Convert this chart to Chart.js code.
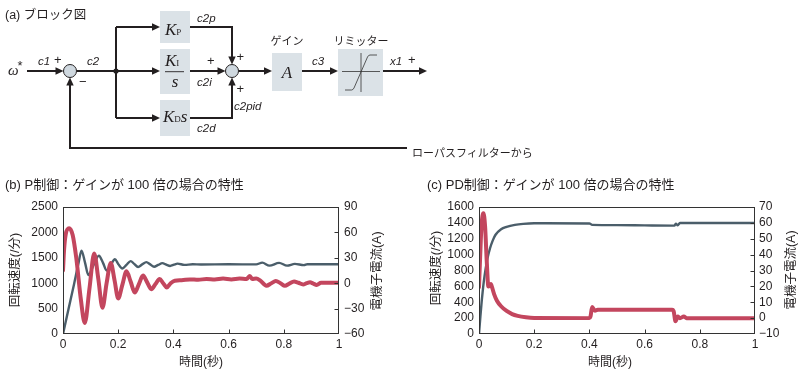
<!DOCTYPE html>
<html><head><meta charset="utf-8">
<script src="https://cdn.jsdelivr.net/npm/chart.js@4"></script>
<style>
html,body{margin:0;padding:0;background:#fff;}
#wrap{position:relative;width:800px;height:373px;overflow:hidden;}
canvas{position:absolute;}
svg{position:absolute;left:0;top:0;pointer-events:none;}
.lab{font-family:"Liberation Sans",Arial,sans-serif;font-style:italic;font-size:11.5px;fill:#231f20;}
.pl{font-family:"Liberation Sans",Arial,sans-serif;font-size:13px;fill:#231f20;}
.jp{font-family:"Liberation Sans","Noto Sans CJK JP",sans-serif;fill:#231f20;}
.sf{font-family:"Liberation Serif","DejaVu Serif",serif;font-style:italic;fill:#231f20;}
.sub{font-style:normal;}
</style></head><body>
<div id="wrap">
<canvas id="cb" width="400" height="183" style="left:0;top:190px"></canvas>
<canvas id="cc" width="400" height="183" style="left:400px;top:190px"></canvas>
<svg width="800" height="373" viewBox="0 0 800 373">
  <!-- block diagram -->
  <text x="5" y="19" class="jp" font-size="12.5">(a) ブロック図</text>
  <g fill="#dbe2e7">
    <rect x="160" y="11" width="30" height="32"/>
    <rect x="160" y="49" width="30" height="45"/>
    <rect x="160" y="100" width="30" height="36"/>
    <rect x="272" y="53" width="30" height="38"/>
    <rect x="338" y="49" width="45" height="47"/>
  </g>
  <g stroke="#231f20" stroke-width="2" fill="none">
    <path d="M27 71 H57"/>
    <path d="M76.5 71 H153"/>
    <path d="M116 27 V118"/>
    <path d="M116 27 H153"/>
    <path d="M116 118 H153"/>
    <path d="M190 27 H232 V58"/>
    <path d="M190 71 H219"/>
    <path d="M190 118 H232 V84"/>
    <path d="M238.5 71 H265"/>
    <path d="M302 71 H331"/>
    <path d="M383 71 H420"/>
    <path d="M407 148 H70 V85"/>
  </g>
  <g fill="#231f20">
    <polygon points="63.5,71 55.5,67.3 55.5,74.7"/>
    <polygon points="160,71 152,67.3 152,74.7"/>
    <polygon points="160,27 152,23.3 152,30.7"/>
    <polygon points="160,118 152,114.3 152,121.7"/>
    <polygon points="232,64.5 228.3,56.5 235.7,56.5"/>
    <polygon points="225.5,71 217.5,67.3 217.5,74.7"/>
    <polygon points="232,77.5 228.3,85.5 235.7,85.5"/>
    <polygon points="272,71 264,67.3 264,74.7"/>
    <polygon points="338,71 330,67.3 330,74.7"/>
    <polygon points="427,71 419,67.3 419,74.7"/>
    <polygon points="70,77.5 66.3,85.5 73.7,85.5"/>
    <circle cx="116" cy="71" r="2.6"/>
  </g>
  <circle cx="70" cy="71" r="6.5" fill="#cfd8df" stroke="#231f20" stroke-width="1"/>
  <circle cx="232" cy="71" r="6.5" fill="#cfd8df" stroke="#231f20" stroke-width="1"/>
  <g stroke="#333" stroke-width="0.8" fill="none">
    <path d="M342 71.5 H380"/>
    <path d="M361 53 V92"/>
    <path d="M345 90 H351.5 Q353 90 354 88 L367.5 57 Q368.5 55 370 55 H377"/>
  </g>
  <text x="8" y="75" class="sf" font-size="15">ω</text>
  <text x="17.5" y="70" class="pl" font-size="8">*</text>
  <text x="38" y="65" class="lab">c1</text>
  <text x="54" y="64" class="pl">+</text>
  <text x="87" y="65" class="lab">c2</text>
  <text x="79" y="86" class="pl">−</text>
  <text x="197" y="22" class="lab">c2p</text>
  <text x="207" y="65" class="pl">+</text>
  <text x="197" y="86" class="lab">c2i</text>
  <text x="236.5" y="61" class="pl">+</text>
  <text x="236.5" y="93" class="pl">+</text>
  <text x="234" y="110" class="lab">c2pid</text>
  <text x="197" y="132" class="lab">c2d</text>
  <text x="312" y="65" class="lab">c3</text>
  <text x="390" y="65" class="lab">x1</text>
  <text x="408" y="64" class="pl">+</text>
  <text x="165" y="35" class="sf" font-size="17">K<tspan class="sub" font-size="9">P</tspan></text>
  <text x="165" y="66" class="sf" font-size="17">K<tspan class="sub" font-size="9">I</tspan></text>
  <path d="M165 71.7 H184" stroke="#231f20" stroke-width="0.9"/>
  <text x="175" y="87" class="sf" font-size="17" text-anchor="middle">s</text>
  <text x="163" y="122" class="sf" font-size="17">K<tspan class="sub" font-size="9">D</tspan>s</text>
  <text x="287" y="78" class="sf" font-size="17" text-anchor="middle">A</text>
  <text x="287" y="45" class="jp" font-size="11" text-anchor="middle">ゲイン</text>
  <text x="361" y="45" class="jp" font-size="11" text-anchor="middle">リミッター</text>
  <text x="412" y="157" class="jp" font-size="11">ローパスフィルターから</text>

  <!-- chart titles -->
  <text x="5" y="189" class="jp" font-size="13">(b) P制御：ゲインが 100 倍の場合の特性</text>
  <text x="427" y="189" class="jp" font-size="13">(c) PD制御：ゲインが 100 倍の場合の特性</text>
  <text x="15" y="270" class="jp" font-size="12.5" text-anchor="middle" dominant-baseline="central" transform="rotate(-90 15 270)">回転速度(/分)</text>
  <text x="377" y="271" class="jp" font-size="12.5" text-anchor="middle" dominant-baseline="central" transform="rotate(-90 377 271)">電機子電流(A)</text>
  <text x="436" y="268" class="jp" font-size="12.5" text-anchor="middle" dominant-baseline="central" transform="rotate(-90 436 268)">回転速度(/分)</text>
  <text x="791" y="270" class="jp" font-size="12.5" text-anchor="middle" dominant-baseline="central" transform="rotate(-90 791 270)">電機子電流(A)</text>
  <text x="201" y="362" class="jp" font-size="12" text-anchor="middle" dominant-baseline="central">時間(秒)</text>
  <text x="610" y="362" class="jp" font-size="12" text-anchor="middle" dominant-baseline="central">時間(秒)</text>
</svg>
</div>
<script>
// (b) P control, gain 100
const pSpeedTime = [0,0.02,0.04,0.056,0.067,0.08,0.092,0.11,0.13,0.145,0.158,0.173,0.188,0.2,0.215,0.23,0.245,0.258,0.272,0.287,0.302,0.316,0.33,0.345,0.36,0.374,0.388,0.402,0.415,0.44,0.47,0.5,0.6,0.7,0.722,0.748,0.783,0.812,0.84,0.873,0.885,1];
const pSpeed     = [0,490,980,1390,1640,1400,1160,1350,1540,1400,1250,1360,1470,1380,1290,1360,1435,1380,1320,1370,1415,1370,1325,1360,1395,1365,1340,1365,1385,1360,1372,1368,1372,1370,1405,1345,1400,1345,1380,1355,1372,1372];
const pCurTime   = [0,0.004,0.01,0.022,0.035,0.048,0.065,0.079,0.096,0.113,0.128,0.143,0.158,0.173,0.187,0.2,0.215,0.23,0.245,0.26,0.275,0.29,0.305,0.32,0.335,0.35,0.363,0.376,0.39,0.405,0.43,0.46,0.49,0.52,0.55,0.58,0.61,0.64,0.665,0.677,0.685,0.7,0.715,0.737,0.755,0.771,0.788,0.804,0.82,0.837,0.853,0.87,0.883,0.895,0.907,0.919,0.935,1];
const pCurrent   = [15,40,58,65,57,30,-20,-47,-6,35,5,-29,0,24,3,-18,-2,14,2,-11,-1,9,1,-7,-1,5,0,-5,0,3,3.5,4.5,4,5,4.5,5.5,4.5,5.5,5,8.5,5,5.5,3,-3,0,2.6,0,-3,-0.5,2,0.5,-1.5,0,1,-0.5,-2,0.5,0.5];
// (c) PD control, gain 100
const pdSpeedTime = [0,0.005,0.01,0.015,0.02,0.03,0.04,0.05,0.06,0.08,0.1,0.13,0.16,0.2,0.4,0.41,0.5,0.6,0.7,0.708,0.713,0.72,0.728,1];
const pdSpeed     = [0,220,420,590,730,940,1080,1180,1250,1320,1350,1375,1388,1395,1393,1375,1372,1368,1365,1365,1390,1368,1398,1398];
const pdCurTime   = [0,0.004,0.009,0.016,0.022,0.028,0.034,0.038,0.043,0.048,0.055,0.065,0.08,0.1,0.12,0.14,0.17,0.2,0.4,0.404,0.41,0.42,0.43,0.7,0.705,0.712,0.72,0.728,0.742,0.752,1];
const pdCurrent   = [19.5,38,58,66,58,36,20,20.5,21.5,19,15,11,7.5,4.5,2.5,1.4,0.5,0.1,0,1,7,4.6,5.2,5.2,4.5,-2,1,0,1,0,0];
// axis ranges / ticks
const timeTicks = [0,0.2,0.4,0.6,0.8,1];
const pSpeedAxis = {min:0,max:2500,step:500};
const pCurAxis   = {min:-60,max:90,step:30};
const pdSpeedAxis = {min:0,max:1600,step:200};
const pdCurAxis   = {min:-10,max:70,step:10};

const RED = '#c3465e', BLUE = '#4b5e6a', INK = '#231f20';
const tickFont = {family:'"Liberation Sans", Arial, sans-serif', size:12};
const pts = (xs, ys) => xs.map((x,i)=>({x, y: ys[i]}));
const minusFmt = v => v < 0 ? '\u2212' + Math.abs(v) : String(v);

const framePlugin = {
  id:'frame',
  afterDatasetsDraw(chart){
    const {ctx, chartArea:a, scales} = chart;
    ctx.save();
    ctx.strokeStyle = '#333'; ctx.lineWidth = 1;
    const L = Math.round(a.left)+0.5, T = Math.round(a.top)+0.5, R = Math.round(a.right)-0.5, B = Math.round(a.bottom)-0.5;
    ctx.strokeRect(L, T, R-L, B-T);
    ctx.beginPath();
    scales.x.ticks.forEach(t=>{
      if (t.value<=0 || t.value>=1) return;
      const px = Math.round(scales.x.getPixelForValue(t.value))+0.5;
      ctx.moveTo(px, B); ctx.lineTo(px, B-4);
    });
    const y2 = scales.y2;
    y2.ticks.forEach(t=>{
      if (t.value<=y2.min || t.value>=y2.max) return;
      const py = Math.round(y2.getPixelForValue(t.value))+0.5;
      ctx.moveTo(R, py); ctx.lineTo(R-4, py);
    });
    ctx.stroke();
    ctx.restore();
  }
};

function build(id, speedPts, curPts, sAx, cAx, leftW, rightW, rPad){
  return new Chart(document.getElementById(id), {
    type:'line',
    data:{datasets:[
      {data:curPts, yAxisID:'y2', borderColor:RED, borderWidth:4, pointRadius:0, cubicInterpolationMode:'monotone', borderCapStyle:'round', borderJoinStyle:'round'},
      {data:speedPts, yAxisID:'y', borderColor:BLUE, borderWidth:2.4, pointRadius:0, cubicInterpolationMode:'monotone', borderCapStyle:'round', borderJoinStyle:'round'}
    ]},
    options:{
      responsive:false, animation:false, events:[],
      layout:{padding:{top:17,left:0,right:0,bottom:0}},
      plugins:{legend:{display:false}, tooltip:{enabled:false}},
      scales:{
        x:{type:'linear', min:0, max:1,
           afterBuildTicks: s => { s.ticks = timeTicks.map(v=>({value:v})); },
           afterFit: s => { s.height = 39; },
           grid:{display:false, drawTicks:false}, border:{display:false},
           ticks:{font:tickFont, color:INK, padding:3, maxRotation:0, autoSkip:false, callback: v => String(+(+v).toFixed(1))}},
        y:{position:'left', min:sAx.min, max:sAx.max,
           afterFit: s => { s.width = leftW; },
           grid:{display:false, drawTicks:false}, border:{display:false},
           ticks:{stepSize:sAx.step, autoSkip:false, font:tickFont, color:INK, padding:5, callback:minusFmt}},
        y2:{position:'right', min:cAx.min, max:cAx.max,
           afterFit: s => { s.width = rightW; },
           grid:{display:false, drawTicks:false}, border:{display:false},
           ticks:{stepSize:cAx.step, autoSkip:false, font:tickFont, color:INK, padding:rPad, callback:minusFmt}}
      }
    },
    plugins:[framePlugin]
  });
}

build('cb', pts(pSpeedTime,pSpeed), pts(pCurTime,pCurrent), pSpeedAxis, pCurAxis, 63, 61, 5);
build('cc', pts(pdSpeedTime,pdSpeed), pts(pdCurTime,pdCurrent), pdSpeedAxis, pdCurAxis, 79, 45, 4);
</script>
</body></html>
